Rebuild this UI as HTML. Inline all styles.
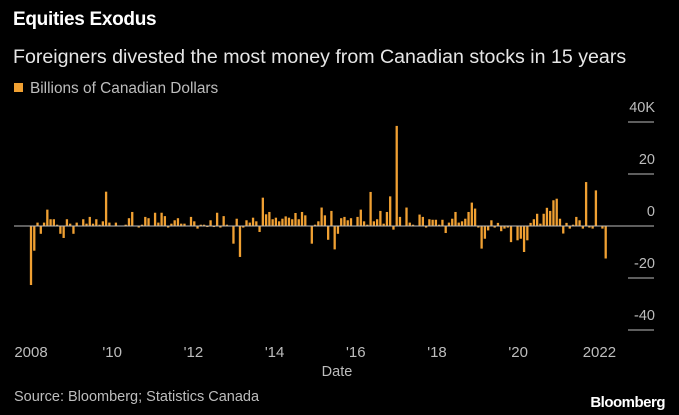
<!DOCTYPE html>
<html><head><meta charset="utf-8"><style>
body{margin:0;background:#000;width:679px;height:415px;overflow:hidden;font-family:"Liberation Sans",sans-serif}
svg{display:block}
</style></head><body>
<svg width="679" height="415">
<text x="13" y="25" fill="#fff" font-size="19" font-weight="bold" letter-spacing="-0.3">Equities Exodus</text>
<text x="13" y="63" fill="#e6e6e6" font-size="19.6">Foreigners divested the most money from Canadian stocks in 15 years</text>
<rect x="14" y="83" width="9" height="9" fill="#f0a032"/>
<text x="30" y="93" fill="#bdbdbd" font-size="15.4">Billions of Canadian Dollars</text>
<g id="yaxis"></g>
<g id="bars"></g>
<line x1="14" x2="654" y1="226" y2="226" stroke="#bbb" stroke-width="1"/>
<g id="xaxis"></g>
<text x="337" y="376" fill="#bdbdbd" font-size="14.5" text-anchor="middle">Date</text>
<text x="14" y="401" fill="#bdbdbd" font-size="14.5">Source: Bloomberg; Statistics Canada</text>
<text x="665" y="407" fill="#fff" font-size="15" font-weight="bold" text-anchor="end" letter-spacing="-0.5">Bloomberg</text>
</svg>
<script>
const values = [
-22.7,-9.5,1.3,-3,1.3,6.3,2.6,2.6,0.5,-3,-4.6,2.6,0.9,-3,1.3,0.2,2.6,0.9,3.5,0.9,
2.6,0.5,1.8,13.2,1.3,0.1,1.3,0.1,0.1,0.5,3,5.4,0.1,-0.6,0.5,3.5,3,0.1,5.1,1.3,
5.1,3.8,-0.6,0.9,2.2,3,0.9,0.9,0.1,3.5,1.8,-1,0.5,0.5,-0.4,2.2,-0.4,5.1,-0.6,3.8,0.5,
0.1,-6.8,2.8,-11.9,-0.6,2.2,1.3,3.2,1.8,-2.3,10.9,4.5,5.4,2.6,3.2,1.8,2.8,3.7,3.2,2.6,
5,2.6,5.4,4.1,0.1,-6.8,0.5,1.8,7.1,4.1,-5.3,5.8,-9,-3,3,3.5,2.2,3,0.1,3.5,
6.3,1.8,0.5,13.1,1.8,2.6,5.8,0.9,5.4,11.4,-1.4,38.5,3.5,0.1,7.1,1.3,0.5,0.1,4.4,3.5,
-0.6,2.6,
2.4,2.4,0.5,2.4,-2.7,1.3,2.8,5.4,1.3,1.8,2.8,5.4,9,6.7,-0.6,-8.7,-4.9,-1.7,2.2,-0.6,
1.2,-2,-1,-0.6,-6.2,0.1,-5.5,-4.9,-10,-5.5,1.2,2.6,4.7,0.9,4.7,7,5.8,9.9,10.5,2.8,
-2.9,1.2,-1,0.5,3.5,2.2,-1,16.9,-0.6,-1,13.7,0.1,-1,-12.5
];
const yTicks = [40,20,0,-20,-40];
const yTickLabels = ["40K","20","0","-20","-40"];
const xTicks = [2008,2010,2012,2014,2016,2018,2020,2022];
const xTickLabels = ["2008","'10","'12","'14","'16","'18","'20","2022"];

const NS="http://www.w3.org/2000/svg";
const y=v=>226-v*2.6;
const xi=i=>31+i*(605.7-31)/(values.length-1);
const xy=yr=>31+(yr-2008)*40.6;

const bars=document.getElementById('bars');
values.forEach((v,i)=>{
  const r=document.createElementNS(NS,'rect');
  r.setAttribute('x',(xi(i)-1.15).toFixed(2));
  r.setAttribute('width','2.3');
  r.setAttribute('y',Math.min(y(v),y(0)));
  r.setAttribute('height',Math.max(Math.abs(y(v)-y(0)),0.3));
  r.setAttribute('fill','#f0a032');
  
  
  bars.appendChild(r);
});
const ya=document.getElementById('yaxis');
yTicks.forEach((t,k)=>{
  if(t!==0){
    const l=document.createElementNS(NS,'line');
    l.setAttribute('x1','628');l.setAttribute('x2','654');
    l.setAttribute('y1',y(t));l.setAttribute('y2',y(t));
    l.setAttribute('stroke','#bbb');
    
    
    ya.appendChild(l);
  }
  const tx=document.createElementNS(NS,'text');
  tx.setAttribute('x','655');tx.setAttribute('y',y(t)-10);
  tx.setAttribute('text-anchor','end');tx.setAttribute('fill','#bdbdbd');tx.setAttribute('font-size','14.5');
  tx.textContent=yTickLabels[k];
  
  
  ya.appendChild(tx);
});
const xa=document.getElementById('xaxis');
xTicks.forEach((t,k)=>{
  const tx=document.createElementNS(NS,'text');
  tx.setAttribute('x',xy(t));tx.setAttribute('y','357');
  tx.setAttribute('text-anchor','middle');tx.setAttribute('fill','#bdbdbd');tx.setAttribute('font-size','15');
  tx.textContent=xTickLabels[k];
  
  
  xa.appendChild(tx);
});
</script>
</body></html>
